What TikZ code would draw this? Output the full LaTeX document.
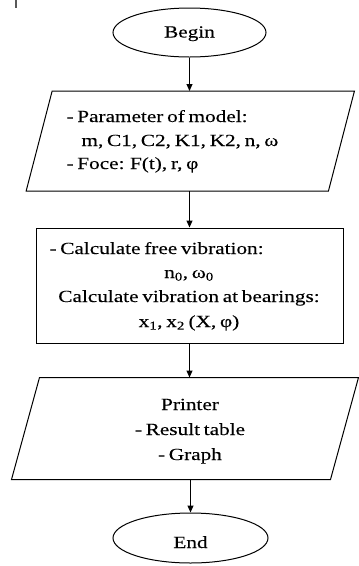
\documentclass[tikz,border=0pt]{standalone}
\usepackage{fontspec}
\setmainfont{Liberation Serif}[FakeStretch=1.25,FakeBold=0.15,WordSpace=0.7]
\usetikzlibrary{shapes.geometric,arrows.meta}
\begin{document}
\begin{tikzpicture}[x=1pt,y=-1pt,
  line width=1pt,
  every node/.style={font=\fontsize{17}{20}\selectfont},
  term/.style={draw,ellipse,inner sep=0pt},
  body/.style={rectangle,inner sep=0pt},
  proc/.style={draw,rectangle,inner sep=0pt},
  txt/.style={inner sep=0pt},
  flow/.style={-{Triangle[length=7pt,width=6pt]}}]
\useasboundingbox (0,0) rectangle (359,566);
\coordinate (t1) at (16,0);
\coordinate (t2) at (16,8);
\draw[line width=1.4pt,gray!70!black] (t1) -- (t2);
\node[term,minimum width=153pt,minimum height=49pt] (begin) at (189.5,32.5) {};
\node[txt,anchor=base] (begint) at (189.5,37.5) {Begin};
% parallelogram 1
\node[body,minimum width=301.3pt,minimum height=99pt] (p1) at (190.3,141) {};
\draw ([xshift=13pt]p1.north west) -- ([xshift=13pt]p1.north east)
   -- ([xshift=-13pt]p1.south east) -- ([xshift=-13pt]p1.south west) -- cycle;
\node[txt,anchor=base west] (p1a) at (66,122) {- Parameter of model:};
\node[txt,anchor=base west] (p1b) at (81,146) {m, C1, C2, K1, K2, n, ω};
\node[txt,anchor=base west] (p1c) at (66,169) {- Foce: F(t), r, φ};
\node[proc,minimum width=307pt,minimum height=115pt] (calc) at (189.5,285.5) {};
\node[txt,anchor=base west] (c1) at (49,254) {- Calculate free vibration:};
\node[txt,anchor=base] (c2) at (189,278) {n\textsubscript{0}, ω\textsubscript{0}};
\node[txt,anchor=base] (c3) at (189,302) {Calculate vibration at bearings:};
\node[txt,anchor=base] (c4) at (189,327) {x\textsubscript{1}, x\textsubscript{2} (X, φ)};
% parallelogram 2
\node[body,minimum width=318pt,minimum height=101pt] (p2) at (185,428.5) {};
\draw ([xshift=14pt]p2.north west) -- ([xshift=14pt]p2.north east)
   -- ([xshift=-14pt]p2.south east) -- ([xshift=-14pt]p2.south west) -- cycle;
\node[txt,anchor=base] (o1) at (190,410) {Printer};
\node[txt,anchor=base] (o2) at (190,435) {- Result table};
\node[txt,anchor=base] (o3) at (190,460) {- Graph};
\node[term,minimum width=155pt,minimum height=50pt] (end) at (190.5,538) {};
\node[txt,anchor=base] (endt) at (190.5,548) {End};
\draw[flow] (begin.south) -- (begin.south |- p1.north);
\draw[flow] (begin.south |- p1.south) -- (calc.north);
\draw[flow] (calc.south) -- (calc.south |- p2.north);
\draw[flow] (end.north |- p2.south) -- (end.north);
\end{tikzpicture}
\end{document}
